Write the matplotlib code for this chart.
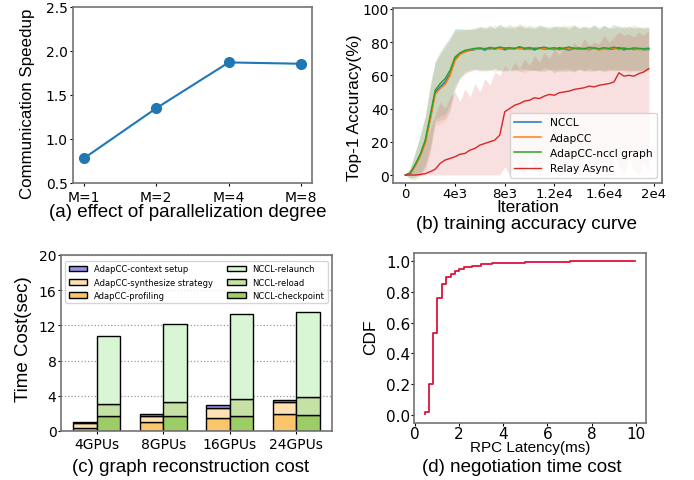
import numpy as np
import matplotlib
matplotlib.use('Agg')
import matplotlib.pyplot as plt

# ---------------------------------------------------------------
# (a) effect of parallelization degree
par_labels = ['M=1', 'M=2', 'M=4', 'M=8']
speedup = [0.78, 1.35, 1.87, 1.855]

# (b) training accuracy curve
iters = [0, 400, 800, 1200, 1600, 2000, 2400, 2800, 3200, 3600,
         4000, 4400, 4800, 5200, 5600, 6000, 6400, 6800, 7200, 7600,
         8000, 8400, 8800, 9200, 9600, 10000, 10400, 10800, 11200, 11600,
         12000, 12400, 12800, 13200, 13600, 14000, 14400, 14800, 15200, 15600,
         16000, 16400, 16800, 17200, 17600, 18000, 18400, 18800, 19200, 19600]
nccl_acc = [0, 1, 6, 12, 20, 34, 50, 53, 56, 61, 70, 73, 74.5, 75, 75.5, 76,
            75.2, 76.3, 75.8, 76.5, 75.4, 76.1, 75.9, 76.8, 75.6, 76.2, 75.3, 76.4,
            75.8, 76.0, 75.5, 76.6, 75.9, 75.2, 76.3, 75.7, 76.1, 75.4, 76.5, 75.8,
            76.2, 75.6, 76.0, 76.7, 75.3, 76.1, 75.5, 75.9, 75.4, 75.6]
nccl_std = [0, 3, 8, 12, 15, 19, 18, 20, 22, 21, 18, 15, 13, 12.5, 12, 13,
            12.5, 13.5, 12, 14, 12.8, 13.2, 12.2, 14.5, 12.6, 13, 12.4, 13.8,
            12.9, 12.1, 14.2, 12.7, 13.3, 12.5, 13.9, 12.3, 13.1, 12.8, 14.1, 12.4,
            13.6, 12.9, 12.2, 13.7, 12.6, 13.4, 12.8, 13.2, 12.5, 13.0]
adapcc_acc = [0, 0.8, 5.5, 11.5, 19, 33, 48.5, 52, 54.5, 60, 69, 72.5, 74, 75.2, 75.8, 75.6,
              76.2, 75.5, 76.4, 75.9, 76.3, 75.7, 76.5, 75.8, 76.1, 75.4, 76.6, 75.9,
              76.2, 75.6, 76.0, 75.3, 76.4, 75.8, 76.5, 75.9, 76.1, 75.6, 76.3, 75.2,
              76.0, 75.8, 76.4, 75.5, 76.2, 75.7, 76.0, 75.4, 75.8, 75.9]
adapcc_std = [0, 3.5, 8.5, 12.5, 16, 20, 19, 21, 22.5, 21.5, 17.5, 14.5, 13.5, 12.8, 12.4, 13.4,
              13.1, 12.4, 14.3, 12.7, 13.6, 12.2, 13.9, 12.8, 14.6, 12.5, 13.2, 12.9,
              14.0, 12.3, 13.5, 12.6, 14.4, 12.9, 13.1, 12.4, 13.8, 12.7, 13.3, 12.2,
              14.2, 12.8, 13.6, 12.5, 13.0, 14.1, 12.6, 13.4, 12.9, 13.2]
graph_acc = [0, 1.2, 6.5, 12.5, 21, 36, 51, 55, 58, 63, 71, 73.5, 75, 75.6, 76.2, 76.5,
             75.9, 76.8, 76.2, 77.0, 76.4, 76.6, 76.1, 77.2, 76.3, 76.7, 75.9, 76.5,
             76.9, 76.2, 76.6, 75.8, 76.4, 77.0, 76.1, 76.5, 75.9, 76.8, 76.3, 76.0,
             76.6, 76.2, 76.9, 76.1, 76.4, 75.8, 76.5, 76.2, 76.0, 76.3]
graph_std = [0, 3, 7.5, 11.5, 15, 19, 17.5, 19.5, 21, 20.5, 17, 14.5, 12.8, 12.2, 12.6, 12.9,
             12.7, 13.4, 12.3, 13.9, 12.6, 14.2, 12.9, 13.1, 12.4, 13.7, 12.8, 14.0,
             12.2, 13.3, 12.7, 13.8, 12.5, 13.0, 14.3, 12.6, 13.2, 12.4, 13.6, 12.9,
             13.5, 12.3, 14.1, 12.8, 13.1, 12.5, 13.9, 12.7, 13.3, 12.6]
relay_acc = [0, 0, 0, 0.3, 0.8, 2, 3.5, 7, 9, 10,
             11, 12.5, 13, 15, 16, 18, 19, 20, 21, 24,
             38, 40, 42, 43, 44.5, 45, 46.5, 46, 47.5, 48.5,
             48, 49.5, 50, 50.5, 51.5, 52, 52.5, 53.5, 53, 54,
             54.5, 55, 56, 61.5, 59.5, 60, 59.5, 61, 62, 64]
relay_low = [0, 0, 0, 0, 0, 0, 0, 0, 0, 0,
             0, 0, 0, 0, 0, 0, 0, 0, 0, 0,
             5, 0, 10, 3, 0, 12, 4, 0, 8, 2,
             15, 5, 0, 10, 3, 0, 12, 6, 0, 9,
             2, 0, 14, 5, 0, 10, 3, 0, 8, 2]
relay_high = [0, 4, 8, 12, 20, 28, 36, 44, 40, 47,
              50, 44, 52, 47, 55, 50, 58, 54, 62, 60,
              66, 62, 68, 64, 70, 66, 72, 68, 74, 70,
              76, 72, 78, 74, 80, 76, 82, 78, 80, 79,
              84, 80, 83, 86, 84, 85, 83, 86, 84, 87]

# (c) graph reconstruction cost (seconds per stage)
gpu_labels = ['4GPUs', '8GPUs', '16GPUs', '24GPUs']
adapcc_profiling = [0.3, 1.03, 1.52, 1.98]
adapcc_synth = [0.65, 0.65, 1.11, 1.26]
adapcc_context = [0.05, 0.26, 0.27, 0.30]
nccl_checkpoint = [1.71, 1.71, 1.68, 1.79]
nccl_reload = [1.41, 1.64, 1.98, 2.02]
nccl_relaunch = [7.71, 8.76, 9.59, 9.74]

# (d) negotiation time cost, CDF of RPC latency
rpc_latency = [0.45, 0.46, 0.65, 0.83, 1.01, 1.22, 1.43, 1.63, 1.82, 2.02,
               2.23, 2.6, 3.0, 3.5, 4.0, 5.0, 6.0, 7.0, 9.97]
rpc_cdf = [0.005, 0.02, 0.2, 0.53, 0.76, 0.85, 0.90, 0.918, 0.935, 0.948,
           0.963, 0.972, 0.98, 0.987, 0.99, 0.994, 0.998, 0.999, 1.0]

# ---------------------------------------------------------------
LABEL_FONT = 'Liberation Sans'
TICK_SIZE = 10

fig = plt.figure(figsize=(6.94, 4.81), dpi=100)
ax_a = fig.add_axes([0.1052, 0.6175, 0.3444, 0.3659])
ax_b = fig.add_axes([0.5663, 0.6175, 0.3876, 0.3638])
ax_c = fig.add_axes([0.0879, 0.1019, 0.3905, 0.3659])
ax_d = fig.add_axes([0.5965, 0.1185, 0.3343, 0.3534])

for ax in [ax_a, ax_b, ax_c, ax_d]:
    for sp in ax.spines.values():
        sp.set_color('0.45')
        sp.set_linewidth(1.2)
    ax.tick_params(labelsize=TICK_SIZE, length=2.5)

# (a)
ax_a.plot(range(len(par_labels)), speedup, '-o', color='#1f77b4', lw=1.5, ms=7)
ax_a.set_xticks(range(len(par_labels)))
ax_a.set_xticklabels(par_labels)
ax_a.set_ylim(0.5, 2.5)
ax_a.set_yticks([0.5, 1.0, 1.5, 2.0, 2.5])
ax_a.tick_params(axis='x', pad=2.5)
ax_a.tick_params(axis='y', pad=1.2)
ax_a.set_ylabel('Communication Speedup', family=LABEL_FONT, fontsize=12.2)
ax_a.yaxis.set_label_coords(-0.16, 0.457)

# (b)
series = [(nccl_acc, nccl_std, '#1f77b4', 'NCCL'),
          (adapcc_acc, adapcc_std, '#ff7f0e', 'AdapCC'),
          (graph_acc, graph_std, '#2ca02c', 'AdapCC-nccl graph')]
for acc, std, color, label in series:
    acc = np.array(acc)
    std = np.array(std)
    ax_b.fill_between(iters, acc - std, acc + std, color=color, alpha=0.13, lw=0)
ax_b.fill_between(iters, relay_low, relay_high, color='#d62728', alpha=0.14, lw=0)
for acc, std, color, label in series:
    ax_b.plot(iters, acc, color=color, lw=1.1, label=label)
ax_b.plot(iters, relay_acc, color='#d62728', lw=1.0, label='Relay Async')
ax_b.set_xticks([0, 4000, 8000, 12000, 16000, 20000])
ax_b.set_xticklabels(['0', '4e3', '8e3', '1.2e4', '1.6e4', '2e4'])
ax_b.set_yticks([0, 20, 40, 60, 80, 100])
ax_b.set_ylim(-4.8, 100.5)
ax_b.set_xlim(-1000, 20670)
ax_b.tick_params(axis='both', pad=0.5)
ax_b.tick_params(axis='x', labelsize=9.5)
ax_b.set_ylabel('Top-1 Accuracy(%)', family=LABEL_FONT, fontsize=12.5)
ax_b.yaxis.set_label_coords(-0.115, 0.437)
ax_b.set_xlabel('Iteration', family=LABEL_FONT, fontsize=12.5)
ax_b.xaxis.set_label_coords(0.5, -0.092)
ax_b.legend(loc='lower right', fontsize=7.7, handlelength=2.5)

# (c)
x = np.arange(len(gpu_labels))
w = 0.35
kw = dict(width=w, edgecolor='black', linewidth=1.0)
p_prof = np.array(adapcc_profiling)
p_syn = np.array(adapcc_synth)
b1 = ax_c.bar(x - w/2, adapcc_profiling, color='#fbc56c', label='AdapCC-profiling', **kw)
b2 = ax_c.bar(x - w/2, adapcc_synth, bottom=p_prof, color='#fee0b3',
              label='AdapCC-synthesize strategy', **kw)
b3 = ax_c.bar(x - w/2, adapcc_context, bottom=p_prof + p_syn, color='#9590ec',
              label='AdapCC-context setup', **kw)
n_ck = np.array(nccl_checkpoint)
n_rl = np.array(nccl_reload)
b4 = ax_c.bar(x + w/2, nccl_checkpoint, color='#9dcd66', label='NCCL-checkpoint', **kw)
b5 = ax_c.bar(x + w/2, nccl_reload, bottom=n_ck, color='#c6e1a6', label='NCCL-reload', **kw)
b6 = ax_c.bar(x + w/2, nccl_relaunch, bottom=n_ck + n_rl, color='#d8f6d3',
              label='NCCL-relaunch', **kw)
ax_c.set_xticks(x)
ax_c.set_xticklabels(gpu_labels)
ax_c.set_ylim(0, 20)
ax_c.set_yticks([0, 4, 8, 12, 16, 20])
ax_c.tick_params(axis='x', pad=1.8)
ax_c.tick_params(axis='y', pad=0.8)
ax_c.yaxis.grid(True, linestyle=':', color='0.6', lw=0.9)
ax_c.set_axisbelow(True)
ax_c.set_ylabel('Time Cost(sec)', family=LABEL_FONT, fontsize=13.5)
ax_c.yaxis.set_label_coords(-0.107, 0.528)
ax_c.legend([b3, b2, b1, b6, b5, b4],
            ['AdapCC-context setup', 'AdapCC-synthesize strategy', 'AdapCC-profiling',
             'NCCL-relaunch', 'NCCL-reload', 'NCCL-checkpoint'],
            ncol=2, fontsize=6, loc='upper left', mode='expand',
            bbox_to_anchor=(0.01, 0, 0.98, 0.975), handlelength=2.2,
            borderaxespad=0.2)

# (d)
ax_d.step(rpc_latency, rpc_cdf, where='post', color='crimson', lw=1.3)
ax_d.set_xticks([0, 2, 4, 6, 8, 10])
ax_d.set_yticks([0.0, 0.2, 0.4, 0.6, 0.8, 1.0])
ax_d.set_ylim(-0.054, 1.054)
ax_d.tick_params(labelsize=11, pad=0.5, length=2)
ax_d.set_ylabel('CDF', family=LABEL_FONT, fontsize=12.5)
ax_d.yaxis.set_label_coords(-0.155, 0.509)
ax_d.set_xlabel('RPC Latency(ms)', family=LABEL_FONT, fontsize=11)
ax_d.xaxis.set_label_coords(0.5, -0.1)

# captions
fig.text(188/694, 1 - 213/481, '(a) effect of parallelization degree',
         family=LABEL_FONT, fontsize=13.5, ha='center', va='center')
fig.text(527/694, 1 - 225/481, '(b) training accuracy curve',
         family=LABEL_FONT, fontsize=13.5, ha='center', va='center')
fig.text(191/694, 1 - 468/481, '(c) graph reconstruction cost',
         family=LABEL_FONT, fontsize=13.5, ha='center', va='center')
fig.text(522/694, 1 - 468/481, '(d) negotiation time cost',
         family=LABEL_FONT, fontsize=13.5, ha='center', va='center')

plt.savefig('out.png', dpi=100)
plt.close()
